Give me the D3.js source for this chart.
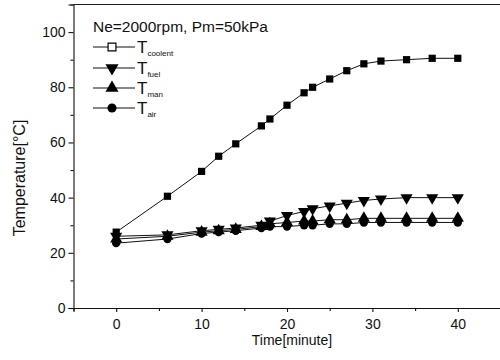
<!DOCTYPE html>
<html><head><meta charset="utf-8">
<script src="https://cdn.jsdelivr.net/npm/d3@7"></script>
<style>body{margin:0;background:#fff}svg{display:block;font-family:"Liberation Sans",Arial,sans-serif}</style>
</head><body><svg id="c" width="500" height="360"></svg>
<script>
const times   = [0,6,10,12,14,17,18,20,22,23,25,27,29,31,34,37,40];
const coolant = [27.5,40.5,49.5,55,59.5,66,68.5,73.5,78,80,83,86,88.5,89.5,90,90.5,90.5];
const fuel    = [26,26.5,28,28.5,29,30,31.5,33.5,35,36,37,38,39,39.5,40,40,40];
const man     = [25,26,27.5,28,28.5,29.5,30.5,31,31.5,31.5,32,32,32.5,32.5,32.5,32.5,32.5];
const air     = [23.5,25,27,27.5,28,29,29.5,29.5,30,30,30.5,30.5,31,31,31,31,31];
const seriesNames = ["coolent","fuel","man","air"];
const xTicks = [0,10,20,30,40];
const yTicks = [0,20,40,60,80,100];
const title = "Ne=2000rpm, Pm=50kPa";

const svg = d3.select("#c");
const x = d3.scaleLinear().domain([-5,45]).range([73.5,500.5]);
const y = d3.scaleLinear().domain([0,110]).range([308,4.5]);

svg.append("line").attr("x1",73.5).attr("x2",500).attr("y1",y(110)).attr("y2",y(110))
  .attr("stroke","#222").attr("stroke-width",1.2);

const xa = svg.append("g").attr("transform",`translate(0,${y(0)})`)
  .call(d3.axisBottom(x).tickValues(xTicks).tickSize(4).tickPadding(4).tickFormat(d3.format("d")));
svg.append("g").attr("transform",`translate(0,${y(0)})`)
  .call(d3.axisBottom(x).tickValues([-5,5,15,25,35,45]).tickSize(3).tickFormat(""))
  .select(".domain").remove();
const ya = svg.append("g").attr("transform",`translate(${x(-5)},0)`)
  .call(d3.axisLeft(y).tickValues(yTicks).tickSize(5).tickPadding(3).tickFormat(d3.format("d")));
svg.append("g").attr("transform",`translate(${x(-5)},0)`)
  .call(d3.axisLeft(y).tickValues([10,30,50,70,90,110]).tickSize(3).tickFormat(""))
  .select(".domain").remove();
svg.selectAll(".tick text").attr("font-size",14).attr("font-family","Liberation Sans, Arial, sans-serif").attr("fill","#111");
svg.selectAll(".domain, .tick line").attr("stroke","#111").attr("stroke-width",1.1);
xa.selectAll(".tick text").attr("dy","0.95em");

svg.append("text").attr("x",292).attr("y",345).attr("text-anchor","middle")
  .attr("font-size",14).attr("fill","#111").text("Time[minute]");
svg.append("text").attr("transform","translate(25,178) rotate(-90)").attr("text-anchor","middle")
  .attr("font-size",16).attr("fill","#111").text("Temperature[°C]");

const data = [coolant,fuel,man,air];
const symbols = [d3.symbolSquare, d3.symbolTriangle, d3.symbolTriangle, d3.symbolCircle];
const sizes = [52, 64, 64, 55];
const rot = [0,180,0,0];
const line = d3.line().x(d=>x(d[0])).y(d=>y(d[1]));

data.forEach((vals,i)=>{
  const pts = times.map((t,j)=>[t,vals[j]]);
  svg.append("path").datum(pts).attr("d",line).attr("fill","none").attr("stroke","#111").attr("stroke-width",1);
});
data.forEach((vals,i)=>{
  const pts = times.map((t,j)=>[t,vals[j]]);
  svg.append("g").selectAll("path").data(pts).join("path")
    .attr("d",d3.symbol().type(symbols[i]).size(sizes[i]))
    .attr("transform",d=>`translate(${x(d[0])},${y(d[1])}) rotate(${rot[i]})`)
    .attr("fill","#000");
});

svg.append("text").attr("x",93).attr("y",32).attr("font-size",15.5).attr("fill","#111").text(title);
const rowY = [47,68,88,108];
seriesNames.forEach((n,i)=>{
  const g = svg.append("g");
  g.append("line").attr("x1",93).attr("x2",135).attr("y1",rowY[i]).attr("y2",rowY[i]).attr("stroke","#111").attr("stroke-width",1.1);
  g.append("path").attr("d",d3.symbol().type(symbols[i]).size(sizes[i]+10))
    .attr("transform",`translate(112,${rowY[i]}) rotate(${rot[i]})`)
    .attr("fill", i===0 ? "#fff" : "#000").attr("stroke","#000").attr("stroke-width", i===0?1.2:0);
  const t = g.append("text").attr("x",137).attr("y",rowY[i]+6).attr("fill","#111");
  t.append("tspan").attr("font-size",17).text("T");
  t.append("tspan").attr("font-size",8).attr("dy",3).text(n);
});
</script></body></html>
